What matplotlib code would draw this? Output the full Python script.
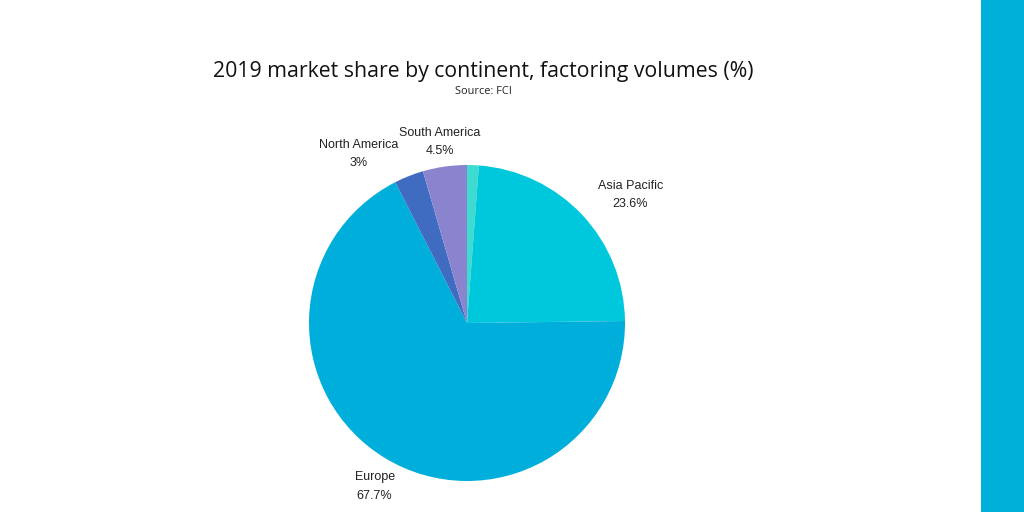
import matplotlib
matplotlib.use('Agg')
import matplotlib.pyplot as plt
import numpy as np

# data, clockwise from 12 o'clock
regions = ['Africa', 'Asia Pacific', 'Europe', 'North America', 'South America']
shares = [1.2, 23.6, 67.7, 3.0, 4.5]
show_label = [False, True, True, True, True]
colors = ['#3ddbd0', '#00c8dc', '#00aedc', '#3f6cc0', '#8a84cf']
# label anchor (angle in degrees, distance in pie radii)
label_angle = [88, 38.5, -119.7, 122.5, 98.4]
label_dist = [1.2, 1.32, 1.18, 1.28, 1.17]

W, H = 1024, 512
fig = plt.figure(figsize=(W / 100, H / 100), dpi=100)

# right accent bar
fig.add_artist(plt.Rectangle((981 / W, 0), (W - 981) / W, 1,
                             transform=fig.transFigure, color='#00b0d8', lw=0))

cx, cy, r = 467, 323, 158
ax = fig.add_axes([(cx - r) / W, (H - cy - r) / H, 2 * r / W, 2 * r / H])
ax.pie(shares, colors=colors, startangle=90, counterclock=False,
       radius=1, wedgeprops=dict(linewidth=0))
ax.set_xlim(-1, 1)
ax.set_ylim(-1, 1)
ax.set_aspect('equal')
ax.axis('off')

for name, val, show, ang, d in zip(regions, shares, show_label, label_angle, label_dist):
    if not show:
        continue
    x = d * np.cos(np.radians(ang))
    y = d * np.sin(np.radians(ang))
    txt = '%s\n%s%%' % (name, ('%g' % val))
    ax.text(x, y - 0.01, txt, ha='center', va='center', fontsize=9,
            family='Liberation Sans', color='#222222', linespacing=1.7,
            clip_on=False)

fig.text(483 / W, 1 - 72 / H, '2019 market share by continent, factoring volumes (%)',
         ha='center', va='center', fontsize=15.35, family='Open Sans', color='#111111')
fig.text(483 / W, 1 - 91 / H, 'Source: FCI', ha='center', va='center',
         fontsize=7.9, family='Open Sans', color='#222222')

fig.savefig('out.png', dpi=100, facecolor='white')
